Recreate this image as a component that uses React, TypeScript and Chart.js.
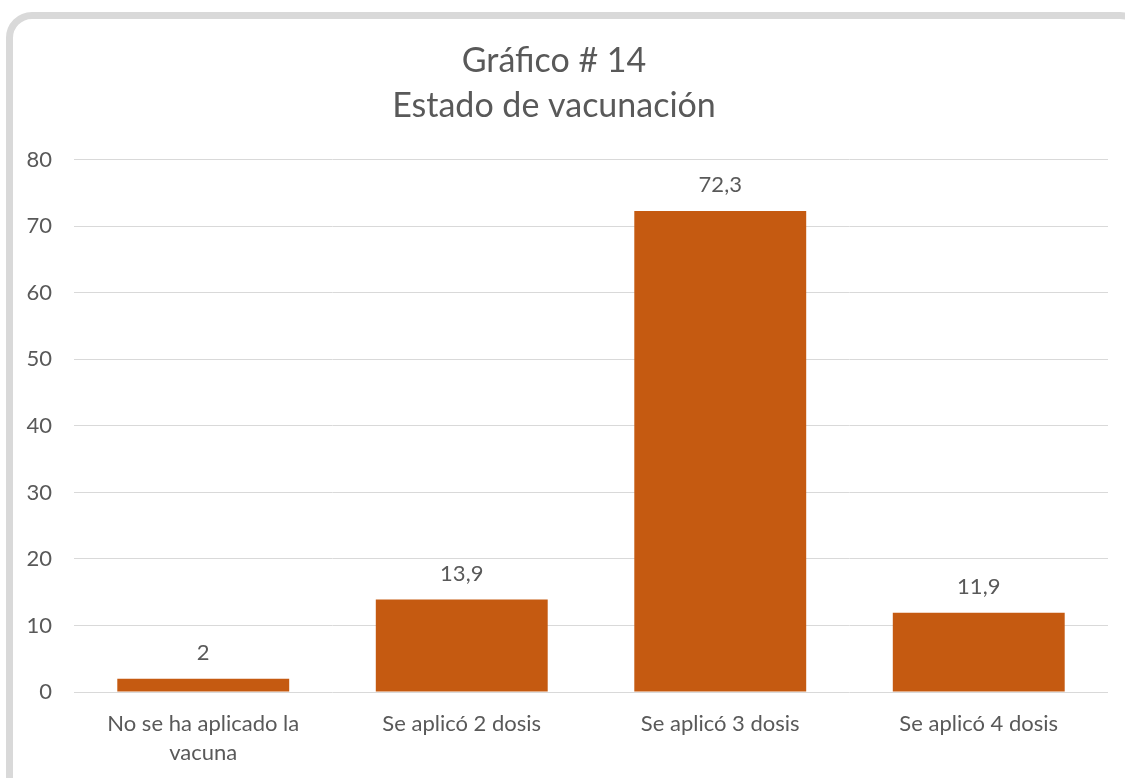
import React, { useEffect, useRef } from "react";
import { Chart, registerables } from "chart.js";

Chart.register(...registerables);

const categories: (string | string[])[] = [
  ["No se ha aplicado la", "vacuna"],
  "Se aplicó 2 dosis",
  "Se aplicó 3 dosis",
  "Se aplicó 4 dosis",
];
const values: number[] = [2, 13.9, 72.3, 11.9];
const titleLines: string[] = ["Gráfico # 14", "Estado de vacunación"];
const yMax = 80;
const yStep = 10;

const FONT = "Lato, 'Open Sans', sans-serif";
const TEXT = "#595959";
const BAR = "#C55A11";
const GRID = "#d9d9d9";

const dataLabelPlugin = {
  id: "dataLabels",
  afterDatasetsDraw(chart: any) {
    const ctx = chart.ctx;
    const meta = chart.getDatasetMeta(0);
    ctx.save();
    ctx.font = `22px ${FONT}`;
    ctx.fillStyle = TEXT;
    ctx.textAlign = "center";
    ctx.textBaseline = "middle";
    meta.data.forEach((el: any, i: number) => {
      const v = values[i];
      const txt = String(v).replace(".", ",");
      ctx.fillText(txt, el.x, el.y - 26);
    });
    ctx.restore();
  },
};

export default function App() {
  const ref = useRef<HTMLCanvasElement>(null);
  useEffect(() => {
    if (!ref.current) return;
    const chart = new Chart(ref.current, {
      type: "bar",
      data: {
        labels: categories as any,
        datasets: [
          {
            data: values,
            backgroundColor: BAR,
            categoryPercentage: 0.665,
            barPercentage: 1,
          },
        ],
      },
      options: {
        responsive: false,
        animation: false,
        layout: { padding: { left: 0, right: 17, top: 0, bottom: 0 } },
        plugins: {
          legend: { display: false },
          tooltip: { enabled: false },
          title: {
            display: true,
            text: titleLines,
            color: TEXT,
            font: { family: FONT, size: 34, weight: "normal", lineHeight: 1.32 },
            padding: { top: 39, bottom: 31 },
          },
        },
        scales: {
          x: {
            grid: { display: false, drawTicks: false },
            border: { display: false },
            ticks: {
              color: TEXT,
              font: { family: FONT, size: 22, lineHeight: 1.32 },
              padding: 17,
              maxRotation: 0,
              autoSkip: false,
            },
            afterFit(scale: any) {
              scale.height = 86;
            },
          },
          y: {
            min: 0,
            max: yMax,
            grid: { color: GRID, lineWidth: 1, drawTicks: false },
            border: { display: false },
            ticks: {
              stepSize: yStep,
              color: TEXT,
              font: { family: FONT, size: 22 },
              padding: 22,
            },
            afterFit(scale: any) {
              scale.width = 74;
            },
          },
        },
      },
      plugins: [dataLabelPlugin],
    });
    return () => chart.destroy();
  }, []);

  return (
    <div
      style={{
        position: "fixed",
        left: 0,
        top: 0,
        width: 1125,
        height: 778,
        overflow: "hidden",
        background: "#fff",
      }}
    >
      <div
        style={{
          position: "absolute",
          left: 6,
          top: 12,
          width: 1140,
          height: 800,
          border: "7px solid #d9d9d9",
          borderRadius: 26,
          boxSizing: "border-box",
        }}
      />
      <canvas
        ref={ref}
        width={1125}
        height={778}
        style={{ position: "absolute", left: 0, top: 0, width: 1125, height: 778 }}
      />
    </div>
  );
}
